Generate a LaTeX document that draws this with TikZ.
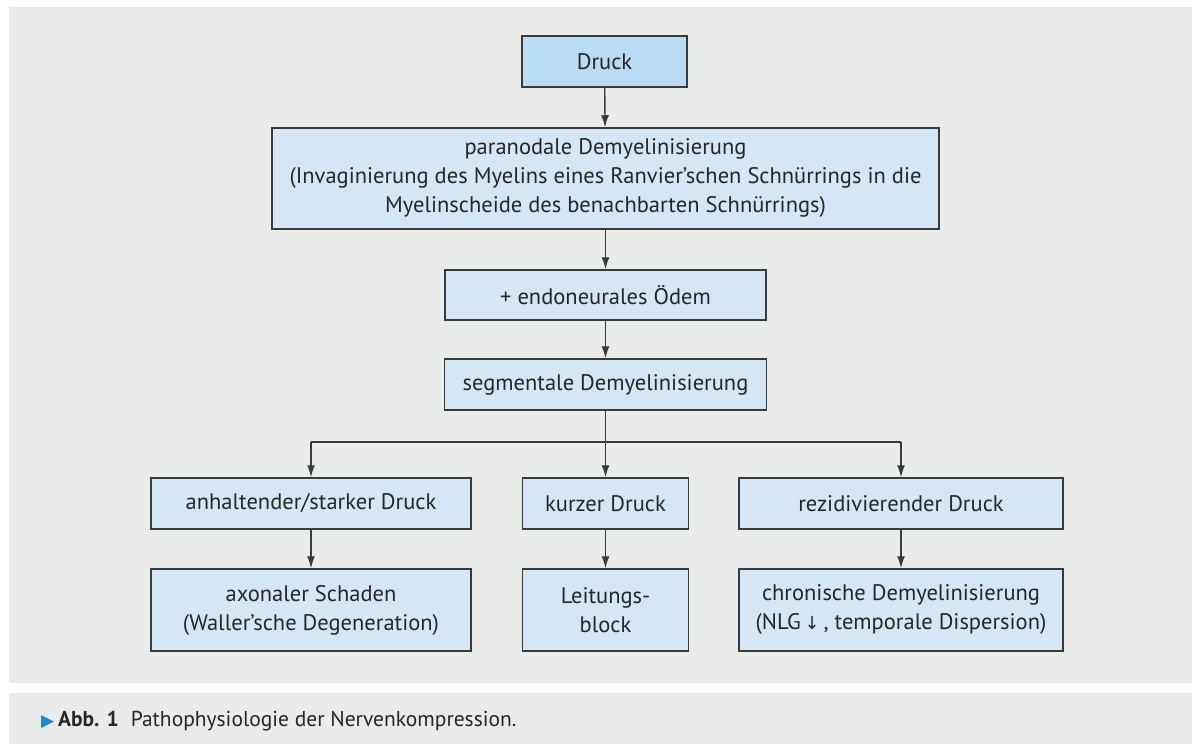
\documentclass[tikz,border=0pt]{standalone}
\usepackage{fontspec}
\setmainfont{PT Sans}
\newfontfamily\arrowfont{DejaVu Sans}
\usetikzlibrary{arrows.meta}
\definecolor{panelgray}{HTML}{EAEBEB}
\definecolor{boxblue}{HTML}{D4E7F6}
\definecolor{topblue}{HTML}{B9DBF3}
\definecolor{edgegray}{HTML}{3A3A3A}
\definecolor{textgray}{HTML}{262626}
\definecolor{markblue}{HTML}{1E8BCD}
\tikzset{
	box/.style={draw=edgegray, line width=1.5pt, fill=boxblue, inner sep=0pt, align=center,
		text=textgray, font=\fontsize{22.5}{29}\selectfont},
	arr/.style={draw=edgegray, line width=1.4pt, -{Latex[length=12pt,width=8pt]}},
	branch/.style={draw=edgegray, line width=1.4pt}
}

\begin{document}
\begin{tikzpicture}[x=1pt, y=-1pt]
			%%%%% START %%%%%
			
			\useasboundingbox (0, 0) rectangle (1192, 744);
			\fill[white] (0, 0) rectangle (1192, 744);
			\fill[panelgray] (9, 7) rectangle (1192, 683);
			\fill[panelgray] (9, 693) rectangle (1192, 744);
			
			\node[box, fill=topblue, minimum width=165pt, minimum height=51pt] (druck) at (604.5, 61.5) {Druck};
			\node[box, minimum width=667pt, minimum height=101pt] (para) at (605.5, 178.5)
				{paranodale Demyelinisierung\\(Invaginierung des Myelins eines Ranvier’schen Schnürrings in die\\Myelinscheide des benachbarten Schnürrings)};
			\node[box, minimum width=321pt, minimum height=50pt] (oedem) at (605.5, 295) {+ endoneurales Ödem};
			\node[box, minimum width=322pt, minimum height=51pt] (segment) at (605.5, 384.5) {segmentale Demyelinisierung};
			
			\node[box, minimum width=320pt, minimum height=51pt] (stark) at (311, 503.5) {anhaltender/starker Druck};
			\node[box, minimum width=166pt, minimum height=51pt] (kurz) at (605.5, 503.5) {kurzer Druck};
			\node[box, minimum width=324pt, minimum height=51pt] (rezid) at (901, 503.5) {rezidivierender Druck};
			
			\node[box, minimum width=320pt, minimum height=82pt] (axon) at (311, 610) {axonaler Schaden\\(Waller’sche Degeneration)};
			\node[box, minimum width=166pt, minimum height=82pt] (block) at (605.5, 610) {Leitungs-\\block};
			\node[box, minimum width=324pt, minimum height=82pt] (chron) at (901, 610)
				{chronische Demyelinisierung\\(NLG\,{\arrowfont\fontsize{18}{29}\selectfont ↓}\,, temporale Dispersion)};
			
			\draw[arr] (druck) -- (para);
			\draw[arr] (para) -- (oedem);
			\draw[arr] (oedem) -- (segment);
			\draw[arr] (segment) -- (kurz);
			
			\coordinate (forkl) at (stark.north |- 0, 442);
			\coordinate (forkr) at (rezid.north |- 0, 442);
			\draw[branch] (forkl) -- (forkr);
			\draw[arr] (forkl) -- (stark);
			\draw[arr] (forkr) -- (rezid);
			
			\draw[arr] (stark) -- (axon);
			\draw[arr] (kurz) -- (block);
			\draw[arr] (rezid) -- (chron);
			
			\fill[markblue] (41, 715) -- (54, 721.5) -- (41, 728) -- cycle;
			\node[anchor=west, inner sep=0pt, text=textgray, font=\fontsize{21.5}{24}\selectfont] (caption) at (58, 721.5)
				{\textbf{Abb. 1}\hspace{12pt}Pathophysiologie der Nervenkompression.};
			
			%%%%% END %%%%%
		\end{tikzpicture}
\end{document}
